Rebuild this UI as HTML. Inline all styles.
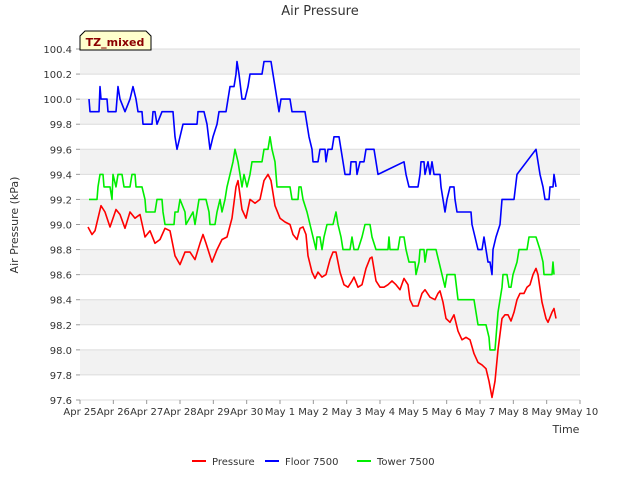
<!DOCTYPE html>
<html><head><meta charset="utf-8"><style>
body{margin:0;background:#fff;font-family:"DejaVu Sans","Liberation Sans",sans-serif;}
svg text{font-family:"DejaVu Sans","Liberation Sans",sans-serif;}
</style></head><body>
<svg id="chart" width="640" height="480" xmlns="http://www.w3.org/2000/svg">
<text x="320" y="15" text-anchor="middle" font-size="13" fill="#333">Air Pressure</text>
<g id="bands"></g><g id="grid"></g>
<g id="series"></g>
<g id="axes"></g>
<text transform="translate(18,225) rotate(-90)" text-anchor="middle" font-size="11" fill="#333">Air Pressure (kPa)</text>
<text x="566" y="433" text-anchor="middle" font-size="11" fill="#333">Time</text>
<g>
<path d="M80,36 L85,31 L146,31 L151,36 L151,50 L80,50 Z" fill="#ffffcc" stroke="#000" stroke-width="1"/>
<text x="115" y="46" text-anchor="middle" font-size="11" font-weight="bold" fill="#8b0000">TZ_mixed</text>
</g>
<g id="legend"></g>
</svg>
<script>
const xTickLabels=["Apr 25","Apr 26","Apr 27","Apr 28","Apr 29","Apr 30","May 1","May 2","May 3","May 4","May 5","May 6","May 7","May 8","May 9","May 10"];
const yTicks=[97.6,97.8,98.0,98.2,98.4,98.6,98.8,99.0,99.2,99.4,99.6,99.8,100.0,100.2,100.4];
const seriesNames=["Pressure","Floor 7500","Tower 7500"];
const seriesColors=["#ff0000","#0000ff","#00ee00"];
const pressureDays=[0.24,0.36,0.45,0.63,0.75,0.90,1.08,1.20,1.35,1.50,1.65,1.80,1.95,2.10,2.25,2.40,2.55,2.70,2.85,3.00,3.15,3.30,3.45,3.60,3.69,3.78,3.96,4.11,4.26,4.41,4.56,4.68,4.74,4.86,4.98,5.10,5.25,5.40,5.52,5.64,5.73,5.85,6.00,6.15,6.30,6.39,6.51,6.60,6.69,6.78,6.84,6.96,7.05,7.14,7.26,7.38,7.50,7.59,7.68,7.80,7.92,8.04,8.16,8.22,8.34,8.46,8.58,8.70,8.76,8.88,9.00,9.12,9.24,9.36,9.48,9.60,9.72,9.84,9.90,9.99,10.14,10.26,10.35,10.50,10.65,10.74,10.80,10.89,10.98,11.10,11.22,11.34,11.46,11.58,11.70,11.82,11.94,12.06,12.18,12.27,12.36,12.45,12.54,12.66,12.75,12.84,12.93,13.02,13.11,13.20,13.32,13.41,13.50,13.59,13.68,13.74,13.86,13.98,14.04,14.16,14.22,14.28];
const pressureVals=[98.98,98.92,98.95,99.15,99.1,98.98,99.12,99.08,98.97,99.1,99.05,99.08,98.9,98.95,98.85,98.88,98.97,98.95,98.75,98.68,98.78,98.78,98.72,98.85,98.92,98.85,98.7,98.8,98.88,98.9,99.05,99.3,99.35,99.12,99.05,99.2,99.17,99.2,99.35,99.4,99.35,99.15,99.05,99.02,99.0,98.92,98.88,98.97,98.98,98.92,98.75,98.62,98.57,98.62,98.58,98.6,98.72,98.78,98.78,98.62,98.52,98.5,98.55,98.58,98.5,98.52,98.65,98.73,98.74,98.55,98.5,98.5,98.52,98.55,98.52,98.48,98.57,98.52,98.4,98.35,98.35,98.45,98.48,98.42,98.4,98.45,98.47,98.38,98.25,98.22,98.28,98.15,98.08,98.1,98.08,97.97,97.9,97.88,97.85,97.75,97.62,97.75,98.0,98.25,98.28,98.28,98.23,98.3,98.4,98.45,98.45,98.5,98.52,98.6,98.65,98.6,98.38,98.25,98.22,98.3,98.33,98.25];
const floorDays=[0.27,0.30,0.57,0.60,0.63,0.81,0.84,1.08,1.14,1.20,1.35,1.50,1.59,1.68,1.74,1.86,1.89,2.16,2.19,2.25,2.31,2.46,2.79,2.85,2.91,3.00,3.09,3.51,3.54,3.72,3.81,3.90,3.99,4.11,4.17,4.38,4.44,4.50,4.62,4.68,4.71,4.77,4.86,4.95,5.04,5.10,5.46,5.52,5.73,5.79,5.91,5.97,6.03,6.30,6.36,6.75,6.81,6.87,6.96,6.99,7.14,7.20,7.35,7.38,7.44,7.56,7.62,7.77,7.83,7.89,7.95,8.10,8.13,8.28,8.31,8.40,8.52,8.58,8.82,8.88,8.94,9.72,9.78,9.87,10.14,10.20,10.23,10.32,10.35,10.44,10.50,10.56,10.62,10.80,10.83,10.89,10.95,11.01,11.10,11.22,11.25,11.31,11.73,11.76,11.85,11.94,12.06,12.12,12.18,12.24,12.30,12.36,12.39,12.48,12.60,12.66,13.02,13.11,13.68,13.80,13.89,13.95,14.07,14.10,14.19,14.22,14.28];
const floorVals=[100.0,99.9,99.9,100.1,100.0,100.0,99.9,99.9,100.1,100.0,99.9,100.0,100.1,100.0,99.9,99.9,99.8,99.8,99.9,99.9,99.8,99.9,99.9,99.7,99.6,99.7,99.8,99.8,99.9,99.9,99.8,99.6,99.7,99.8,99.9,99.9,100.0,100.1,100.1,100.2,100.3,100.2,100.0,100.0,100.1,100.2,100.2,100.3,100.3,100.2,100.0,99.9,100.0,100.0,99.9,99.9,99.8,99.7,99.6,99.5,99.5,99.6,99.6,99.5,99.6,99.6,99.7,99.7,99.6,99.5,99.4,99.4,99.5,99.5,99.4,99.5,99.5,99.6,99.6,99.5,99.4,99.5,99.4,99.3,99.3,99.4,99.5,99.5,99.4,99.5,99.4,99.5,99.4,99.4,99.3,99.2,99.1,99.2,99.3,99.3,99.2,99.1,99.1,99.0,98.9,98.8,98.8,98.9,98.8,98.7,98.7,98.6,98.8,98.9,99.0,99.2,99.2,99.4,99.6,99.4,99.3,99.2,99.2,99.3,99.3,99.4,99.3];
const towerDays=[0.27,0.51,0.54,0.60,0.69,0.72,0.90,0.96,0.99,1.08,1.14,1.26,1.32,1.50,1.56,1.65,1.68,1.86,1.95,1.98,2.25,2.31,2.46,2.49,2.55,2.82,2.85,2.94,3.00,3.15,3.18,3.39,3.45,3.57,3.78,3.87,3.90,4.05,4.11,4.20,4.26,4.35,4.41,4.50,4.59,4.65,4.74,4.80,4.86,4.92,5.01,5.10,5.16,5.46,5.52,5.64,5.70,5.76,5.85,5.91,6.30,6.36,6.54,6.57,6.63,6.69,6.81,6.90,6.99,7.08,7.11,7.20,7.26,7.32,7.41,7.59,7.68,7.74,7.83,7.89,8.10,8.16,8.22,8.34,8.46,8.55,8.70,8.76,8.88,9.24,9.27,9.30,9.54,9.60,9.72,9.78,9.87,10.05,10.08,10.17,10.20,10.32,10.35,10.41,10.68,10.77,10.86,10.95,11.01,11.25,11.34,11.82,11.88,11.94,12.18,12.27,12.30,12.45,12.54,12.60,12.66,12.69,12.81,12.87,12.93,12.99,13.11,13.17,13.41,13.47,13.68,13.80,13.89,13.92,14.16,14.19,14.22];
const towerVals=[99.2,99.2,99.3,99.4,99.4,99.3,99.3,99.2,99.4,99.3,99.4,99.4,99.3,99.3,99.4,99.4,99.3,99.3,99.2,99.1,99.1,99.2,99.2,99.1,99.0,99.0,99.1,99.1,99.2,99.1,99.0,99.1,99.0,99.2,99.2,99.1,99.0,99.0,99.1,99.2,99.1,99.2,99.3,99.4,99.5,99.6,99.5,99.4,99.3,99.4,99.3,99.4,99.5,99.5,99.6,99.6,99.7,99.6,99.5,99.3,99.3,99.2,99.2,99.3,99.3,99.2,99.1,99.0,98.9,98.8,98.9,98.9,98.8,98.9,99.0,99.0,99.1,99.0,98.9,98.8,98.8,98.9,98.8,98.8,98.9,99.0,99.0,98.9,98.8,98.8,98.9,98.8,98.8,98.9,98.9,98.8,98.7,98.7,98.6,98.7,98.8,98.8,98.7,98.8,98.8,98.7,98.6,98.5,98.6,98.6,98.4,98.4,98.3,98.2,98.2,98.1,98.0,98.0,98.3,98.4,98.5,98.6,98.6,98.5,98.5,98.6,98.7,98.8,98.8,98.9,98.9,98.8,98.7,98.6,98.6,98.7,98.6];

const NS="http://www.w3.org/2000/svg";
const L=80,R=580,T=49,B=400,YMIN=97.6,YMAX=100.4,XMAX=15;
const xs=d=>L+(R-L)*d/XMAX;
const ys=v=>B-(B-T)*(v-YMIN)/(YMAX-YMIN);
function mk(tag,attrs,parent){const e=document.createElementNS(NS,tag);for(const k in attrs)e.setAttribute(k,attrs[k]);parent.appendChild(e);return e;}
const bands=document.getElementById('bands'),grid=document.getElementById('grid'),axes=document.getElementById('axes');
for(let i=0;i<yTicks.length-1;i++){
  if((yTicks.length-2-i)%2===0){
    const r=mk('rect',{x:L,y:ys(yTicks[i+1]),width:R-L,height:ys(yTicks[i])-ys(yTicks[i+1]),fill:'#f2f2f2'},bands);
    
    
  }
}
yTicks.forEach(v=>{
  const ln=mk('line',{x1:L,x2:R,y1:ys(v),y2:ys(v),stroke:'#dcdcdc','stroke-width':1},grid);
  
  
  const tk=mk('line',{x1:L-4,x2:L,y1:ys(v),y2:ys(v),stroke:'#999'},axes);
  
  
  const t=mk('text',{x:L-8,y:ys(v)+4,'text-anchor':'end','font-size':10,fill:'#333'},axes);
  t.textContent=v.toFixed(1);
  
  
});
xTickLabels.forEach((lab,i)=>{
  const tk=mk('line',{x1:xs(i),x2:xs(i),y1:B,y2:B+4,stroke:'#999'},axes);
  
  
  const t=mk('text',{x:xs(i),y:B+15,'text-anchor':'middle','font-size':10,fill:'#333'},axes);
  t.textContent=lab;
  
  
});
const sg=document.getElementById('series');
const allDays=[pressureDays,floorDays,towerDays],allVals=[pressureVals,floorVals,towerVals];
const order=[2,1,0];
order.forEach(s=>{
  const d=allDays[s].map((dd,i)=>(i?'L':'M')+xs(dd).toFixed(1)+','+ys(allVals[s][i]).toFixed(1)).join(' ');
  const p=mk('path',{d:d,fill:'none',stroke:seriesColors[s],'stroke-width':1.6,'stroke-linejoin':'round'},sg);
  
  
});
const lg=document.getElementById('legend');
const lx=[192,265,357];
seriesNames.forEach((n,i)=>{
  const g=mk('g',{},lg);
  
  
  mk('line',{x1:lx[i],x2:lx[i]+14,y1:461,y2:461,stroke:seriesColors[i],'stroke-width':2},g);
  const t=mk('text',{x:lx[i]+20,y:465,'font-size':10,fill:'#333'},g);
  t.textContent=n;
});
</script>
</body></html>
